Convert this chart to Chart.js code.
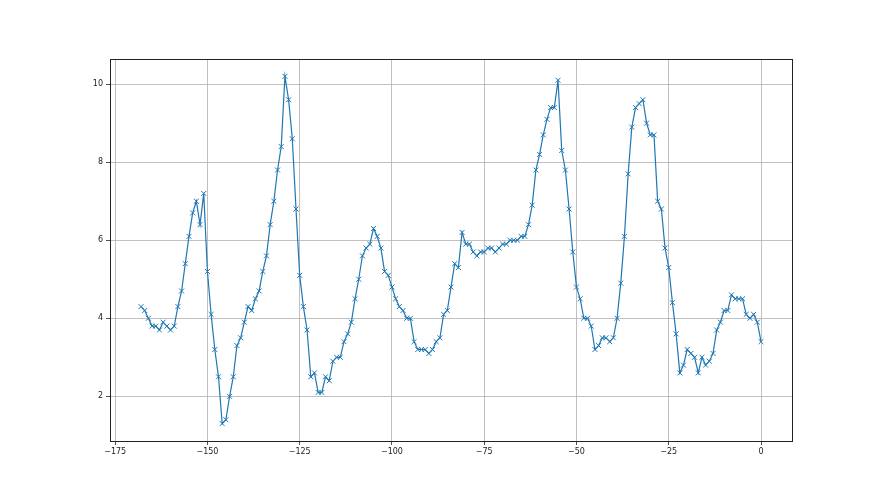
<!DOCTYPE html>
<html lang="en">
<head>
  <meta charset="UTF-8" />
  <title>Series</title>
  <script src="https://cdn.jsdelivr.net/npm/chart.js"></script>
  <style>
    html, body { margin: 0; padding: 0; background: #ffffff; }
    #wrap { width: 880px; height: 495px; }
  </style>
</head>
<body>
  <div id="wrap"><canvas id="chart" width="880" height="495"></canvas></div>
  <script>
    // x runs from -168 to 0, one reading per step
    const xStart = -168;
    const values = [
      4.3, 4.2, 4.0, 3.8, 3.8, 3.7, 3.9, 3.8, 3.7, 3.8,
      4.3, 4.7, 5.4, 6.1, 6.7, 7.0, 6.4, 7.2, 5.2, 4.1,
      3.2, 2.5, 1.3, 1.4, 2.0, 2.5, 3.3, 3.5, 3.9, 4.3,
      4.2, 4.5, 4.7, 5.2, 5.6, 6.4, 7.0, 7.8, 8.4, 10.2,
      9.6, 8.6, 6.8, 5.1, 4.3, 3.7, 2.5, 2.6, 2.1, 2.1,
      2.5, 2.4, 2.9, 3.0, 3.0, 3.4, 3.6, 3.9, 4.5, 5.0,
      5.6, 5.8, 5.9, 6.3, 6.1, 5.8, 5.2, 5.1, 4.8, 4.5,
      4.3, 4.2, 4.0, 4.0, 3.4, 3.2, 3.2, 3.2, 3.1, 3.2,
      3.4, 3.5, 4.1, 4.2, 4.8, 5.4, 5.3, 6.2, 5.9, 5.9,
      5.7, 5.6, 5.7, 5.7, 5.8, 5.8, 5.7, 5.8, 5.9, 5.9,
      6.0, 6.0, 6.0, 6.1, 6.1, 6.4, 6.9, 7.8, 8.2, 8.7,
      9.1, 9.4, 9.4, 10.1, 8.3, 7.8, 6.8, 5.7, 4.8, 4.5,
      4.0, 4.0, 3.8, 3.2, 3.3, 3.5, 3.5, 3.4, 3.5, 4.0,
      4.9, 6.1, 7.7, 8.9, 9.4, 9.5, 9.6, 9.0, 8.7, 8.7,
      7.0, 6.8, 5.8, 5.3, 4.4, 3.6, 2.6, 2.8, 3.2, 3.1,
      3.0, 2.6, 3.0, 2.8, 2.9, 3.1, 3.7, 3.9, 4.2, 4.2,
      4.6, 4.5, 4.5, 4.5, 4.1, 4.0, 4.1, 3.9, 3.4
    ];
    const xTicks = [-175, -150, -125, -100, -75, -50, -25, 0];
    const yTicks = [2, 4, 6, 8, 10];

    const points = values.map((v, i) => ({ x: xStart + i, y: v }));

    // matplotlib-style 5% margins around the data
    const xMin = xStart, xMax = xStart + values.length - 1;
    const yLo = Math.min(...values), yHi = Math.max(...values);
    const xPad = (xMax - xMin) * 0.05, yPad = (yHi - yLo) * 0.05;

    const minus = v => String(v).replace('-', '\u2212');

    // box around the plot area, like matplotlib spines
    const frame = {
      id: 'frame',
      afterDraw(chart) {
        const a = chart.chartArea, c = chart.ctx;
        c.save();
        c.strokeStyle = '#222';
        c.lineWidth = 1;
        c.strokeRect(Math.round(a.left) + 0.5, Math.round(a.top) + 0.5,
                     Math.round(a.right - a.left), Math.round(a.bottom - a.top));
        c.restore();
      }
    };

    const tickFont = { family: 'DejaVu Sans', size: 8 };

    new Chart(document.getElementById('chart'), {
      type: 'scatter',
      data: {
        datasets: [{
          data: points,
          showLine: true,
          borderColor: '#1f77b4',
          borderWidth: 1.2,
          pointStyle: 'crossRot',
          pointRadius: 3.5,
          pointBorderWidth: 1,
          pointBorderColor: '#1f77b4',
          pointBackgroundColor: '#1f77b4'
        }]
      },
      options: {
        responsive: false,
        animation: false,
        layout: { padding: { top: 59, right: 88, bottom: 22, left: 0 } },
        plugins: { legend: { display: false }, tooltip: { enabled: false } },
        scales: {
          x: {
            type: 'linear',
            min: xMin - xPad,
            max: xMax + xPad,
            afterBuildTicks: s => { s.ticks = xTicks.map(v => ({ value: v })); },
            afterFit: s => { s.height = 32; },
            grid: { color: '#b0b0b0', lineWidth: 0.8, tickColor: '#222', tickLength: 4 },
            border: { display: false },
            ticks: { color: '#222', font: tickFont, padding: 2, maxRotation: 0, callback: minus }
          },
          y: {
            min: yLo - yPad,
            max: yHi + yPad,
            afterBuildTicks: s => { s.ticks = yTicks.map(v => ({ value: v })); },
            afterFit: s => { s.width = 110; },
            grid: { color: '#b0b0b0', lineWidth: 0.8, tickColor: '#222', tickLength: 4 },
            border: { display: false },
            ticks: { color: '#222', font: tickFont, padding: 3, callback: minus }
          }
        }
      },
      plugins: [frame]
    });
  </script>
</body>
</html>
